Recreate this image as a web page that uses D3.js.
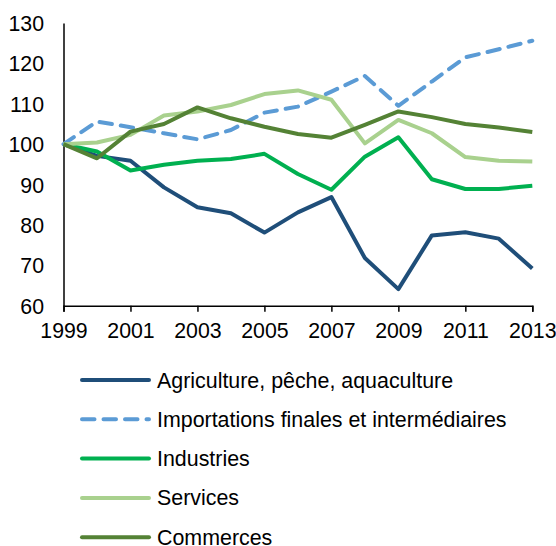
<!DOCTYPE html>
<html>
<head>
<meta charset="utf-8">
<script src="https://cdn.jsdelivr.net/npm/d3@7"></script>
<style>
  body { margin: 0; background: #fff; }
  svg text { font-family: "Liberation Sans", Arial, sans-serif; fill: #000; }
</style>
</head>
<body>
<div class="chart"></div>
<script>
// data
const years = [1999, 2000, 2001, 2002, 2003, 2004, 2005, 2006, 2007, 2008, 2009, 2010, 2011, 2012, 2013];
const agriculture = [100, 97.1, 95.9, 89.3, 84.4, 82.9, 78.1, 83.1, 86.9, 71.8, 64.1, 77.4, 78.2, 76.6, 69.2];
const importations = [100, 105.6, 104.2, 102.7, 101.2, 103.5, 107.8, 109.3, 113.0, 116.9, 109.5, 115.5, 121.5, 123.5, 125.6];
const industries = [100, 98.2, 93.5, 94.9, 95.9, 96.3, 97.6, 92.6, 88.7, 96.9, 101.7, 91.3, 88.9, 88.9, 89.7];
const services = [100, 100.4, 102.3, 107.1, 108.1, 109.7, 112.4, 113.3, 111.0, 100.2, 106.0, 102.7, 96.8, 95.9, 95.7];
const commerces = [100, 96.5, 103.1, 105.0, 109.1, 106.4, 104.3, 102.5, 101.6, 104.8, 108.1, 106.7, 105.0, 104.1, 103.0];
const yTicks = [60, 70, 80, 90, 100, 110, 120, 130];
const xTicks = [1999, 2001, 2003, 2005, 2007, 2009, 2011, 2013];

const series = [
  {name: "Agriculture, pêche, aquaculture", values: agriculture, color: "#1f4e79", dash: null},
  {name: "Importations finales et intermédiaires", values: importations, color: "#5b9bd5", dash: "12.5,9"},
  {name: "Industries", values: industries, color: "#00b050", dash: null},
  {name: "Services", values: services, color: "#a9d18e", dash: null},
  {name: "Commerces", values: commerces, color: "#548235", dash: null}
];

const W = 556, H = 546;
const margin = {top: 23, left: 63.5, right: 23.7, bottom: 240.3};
const width = W - margin.left - margin.right;
const height = H - margin.top - margin.bottom;

const root = d3.select(".chart").append("svg")
    .attr("width", W)
    .attr("height", H);

const svg = root.append("g")
    .attr("transform", `translate(${margin.left},${margin.top})`);

const xScale = d3.scaleLinear().domain([1999, 2013]).range([0, width]);
const yScale = d3.scaleLinear().domain([60, 130]).range([height, 0]);

// y axis: line + labels, no tick marks
const yAxis = d3.axisLeft(yScale).tickValues(yTicks).tickSize(0).tickPadding(19.5);
svg.append("g")
    .attr("class", "axis y-axis")
    .call(yAxis)
    .call(g => g.select(".domain").attr("stroke", "#000").attr("stroke-width", 1.5))
    .call(g => g.selectAll("text").attr("font-size", 21.3).attr("dy", "0.35em"));

// x axis with ticks pointing down
const xAxis = d3.axisBottom(xScale).tickValues(xTicks).tickFormat(d3.format("d"))
    .tickSizeInner(6).tickSizeOuter(6).tickPadding(11);
svg.append("g")
    .attr("class", "axis x-axis")
    .attr("transform", `translate(0,${height})`)
    .call(xAxis)
    .call(g => g.select(".domain").attr("stroke", "#000").attr("stroke-width", 1.5))
    .call(g => g.selectAll(".tick line").attr("stroke", "#000").attr("stroke-width", 1.5))
    .call(g => g.selectAll("text").attr("font-size", 21.3));

const line = d3.line()
    .x((d, i) => xScale(years[i]))
    .y(d => yScale(d));

svg.selectAll(".series")
    .data(series)
    .enter()
    .append("path")
    .attr("class", "series")
    .attr("fill", "none")
    .attr("stroke", d => d.color)
    .attr("stroke-width", 4)
    .attr("stroke-linejoin", "round")
    .attr("stroke-linecap", d => d.dash ? "round" : "butt")
    .attr("stroke-dasharray", d => d.dash)
    .attr("d", d => line(d.values));

// legend
const legend = root.append("g").attr("transform", "translate(80,380)");
const rows = legend.selectAll(".leg")
    .data(series)
    .enter()
    .append("g")
    .attr("class", "leg")
    .attr("transform", (d, i) => `translate(0,${i * 39.3})`);

rows.append("line")
    .attr("x1", 2).attr("x2", 69)
    .attr("stroke", d => d.color)
    .attr("stroke-width", 4)
    .attr("stroke-linecap", "round")
    .attr("stroke-dasharray", d => d.dash);

rows.append("text")
    .attr("x", 77)
    .attr("dy", "0.35em")
    .attr("font-size", 21.4)
    .text(d => d.name);
</script>
</body>
</html>
